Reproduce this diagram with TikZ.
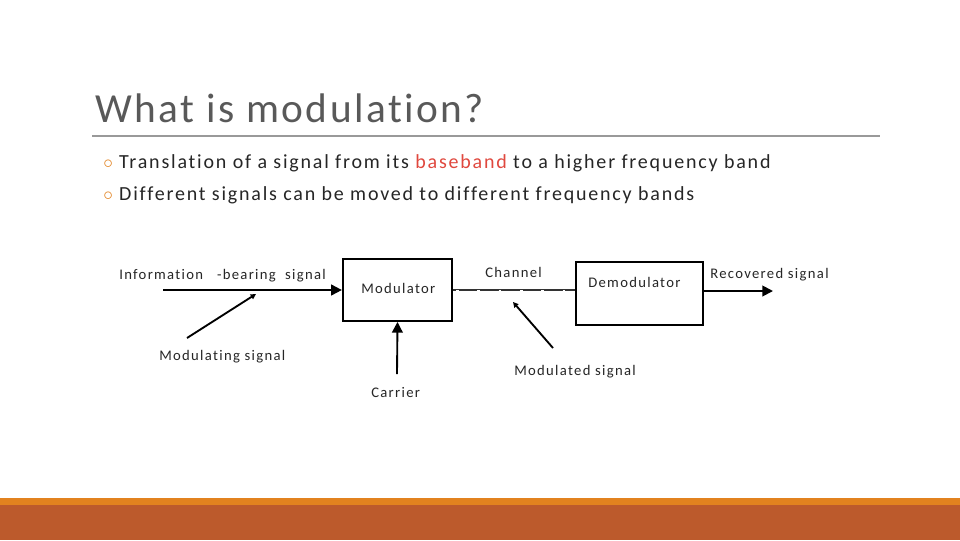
\documentclass[tikz,border=0pt]{standalone}
\usepackage{fontspec}
\setmainfont{Carlito}[Ligatures=NoCommon]
\usetikzlibrary{arrows.meta}
\definecolor{barA}{HTML}{E2821F}
\definecolor{barB}{HTML}{BC5A2C}
\definecolor{redtxt}{HTML}{E0483E}
\begin{document}
\begin{tikzpicture}[x=0.75pt,y=-0.75pt,
  lbl/.style={inner sep=0pt,anchor=base west,font=\fontsize{11}{13}\selectfont\addfontfeature{LetterSpace=9},text=black!85},
  blk/.style={draw,line width=1.4pt},
  arr/.style={line width=1.4pt,-{Triangle[length=8pt,width=8pt]}},
  arrs/.style={line width=1.4pt,-{Triangle[length=4pt,width=4pt]}}]
\useasboundingbox (0,0) rectangle (960,540);
\fill[white] (0,0) rectangle (960,540);
\fill[barA] (0,498) rectangle (960,505);
\fill[barB] (0,505) rectangle (960,540);
\node[anchor=base west,inner sep=0pt,font=\fontsize{31}{36}\selectfont\addfontfeature{LetterSpace=6},text=black!65] (title) at (95,122) {What is modulation?};
\draw[black!40,line width=0.8pt] (92,136) -- (880,136);
\node[anchor=base west,inner sep=0pt,font=\fontsize{15}{18}\selectfont\addfontfeature{LetterSpace=9},text=black!85] (b1) at (103,168) {\textcolor{barA}{$\circ$} Translation of a signal from its \textcolor{redtxt}{baseband} to a higher frequency band};
\node[anchor=base west,inner sep=0pt,font=\fontsize{15}{18}\selectfont\addfontfeature{LetterSpace=9},text=black!85] (b2) at (103,200) {\textcolor{barA}{$\circ$} Different signals can be moved to different frequency bands};
\node[blk,minimum width=82pt,minimum height=46.5pt,inner sep=0pt] (mod) at (397.5,290) {};
\node[lbl] at (361,293) {Modulator};
\node[blk,minimum width=95pt,minimum height=47pt,inner sep=0pt] (dem) at (639.5,293.5) {};
\node[lbl] at (588,287) {Demodulator};
\node[lbl] (info) at (119,279) {Information \ \ -bearing \ signal};
\node[lbl] (mods) at (159,360) {Modulating signal};
\node[lbl] (car) at (371,397) {Carrier};
\node[lbl] (chan) at (485,277) {Channel};
\node[lbl] (mdd) at (514,375) {Modulated signal};
\node[lbl] (rec) at (710,278) {Recovered signal};
\coordinate (i0) at (163,290);
\coordinate (m0) at (187,338); \coordinate (m1) at (256,294);
\coordinate (c0) at (397,374);
\coordinate (d0) at (553,348); \coordinate (d1) at (513,302);
\coordinate (r1) at (773,291);
\draw[arr] (i0) -- (mod.west);
\draw[arrs] (m0) -- (m1);
\draw[arr] (c0) -- (mod.south);
\draw[black!80,line width=1.2pt] (mod.east) -- (dem.west |- mod.east);
\draw[white,line width=0.5pt,dash pattern=on 2pt off 14pt] (456,290.5) -- (572,290.5);
\draw[arrs] (d0) -- (d1);
\draw[arr] (dem.east |- r1) -- (r1);
\end{tikzpicture}
\end{document}
